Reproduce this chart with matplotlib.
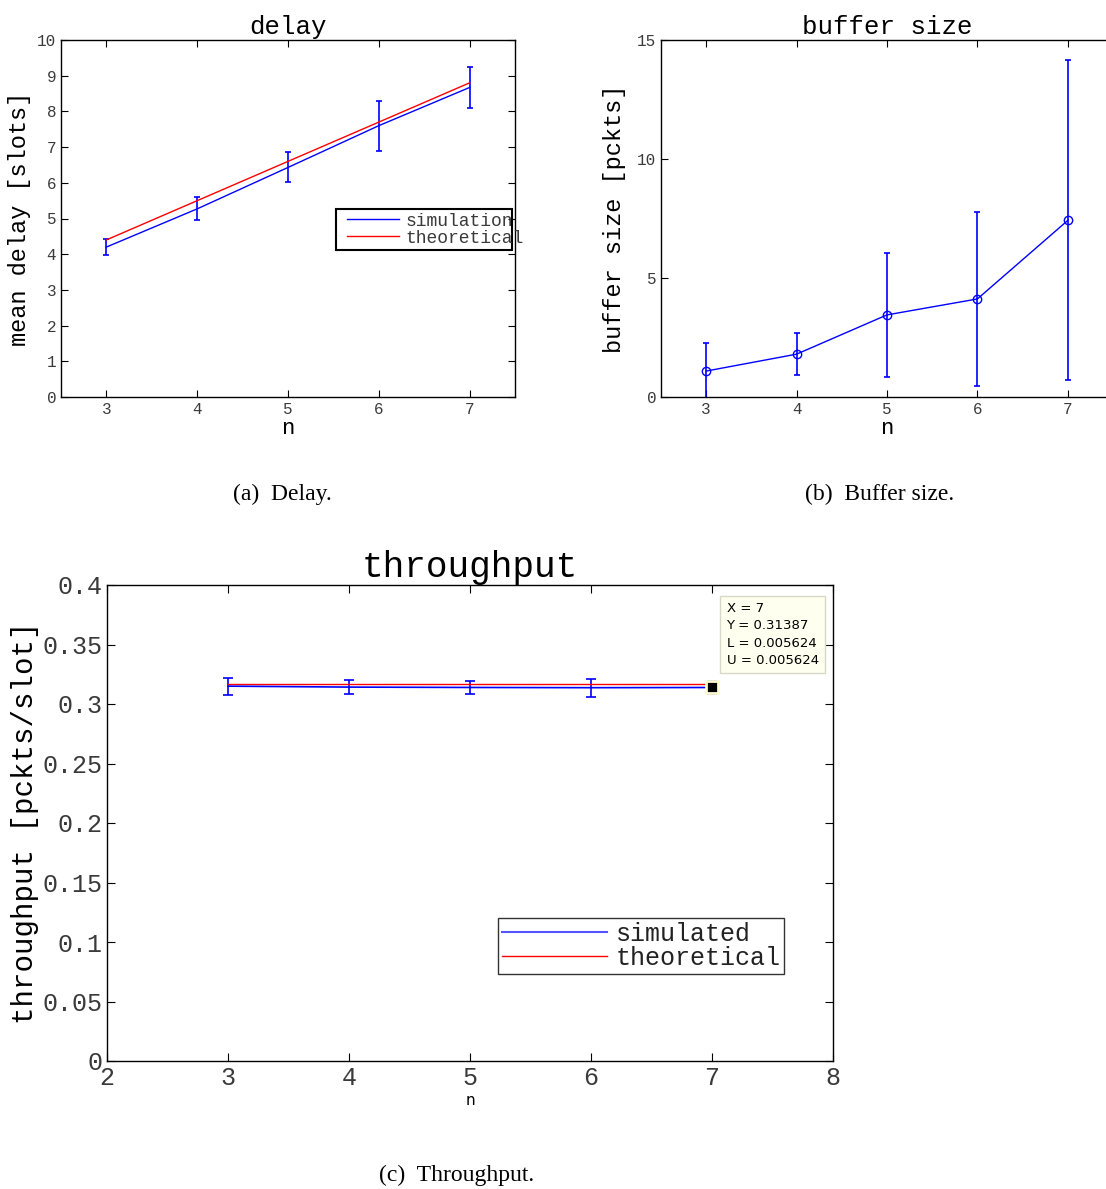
import matplotlib
matplotlib.use("Agg")
import matplotlib.pyplot as plt
from matplotlib.patches import Rectangle

W, H = 1106, 1189
mono = ['Liberation Mono', 'DejaVu Sans Mono']
serif = ['Liberation Serif', 'DejaVu Serif']

n = [3, 4, 5, 6, 7]
delay_sim = [4.2, 5.27, 6.43, 7.6, 8.67]
delay_err = [0.22, 0.32, 0.42, 0.70, 0.58]
delay_theo = [4.4, 5.5, 6.6, 7.7, 8.8]

buf_mean = [1.09, 1.80, 3.45, 4.12, 7.42]
buf_err = [1.17, 0.89, 2.60, 3.66, 6.72]

thr_sim = [0.3150, 0.3142, 0.3139, 0.3137, 0.31387]
thr_err = [0.0071, 0.0059, 0.0055, 0.0076, 0.005624]
thr_theo = [0.3165, 0.3165, 0.3165, 0.3165, 0.3165]

tick_color = '#3a3a3a'

fig = plt.figure(figsize=(W / 100, H / 100), dpi=100)


def ax_px(l, t, r, b):
    return fig.add_axes([l / W, 1 - b / H, (r - l) / W, (b - t) / H])


def style(ax, fs):
    ax.tick_params(direction='in', top=True, right=True, length=5,
                   labelsize=fs, colors='black', labelcolor=tick_color)
    for lab in ax.get_xticklabels() + ax.get_yticklabels():
        lab.set_fontfamily(mono)
    for s in ax.spines.values():
        s.set_linewidth(1.0)


# (a) delay
ax1 = ax_px(61, 40, 515, 397)
ax1.errorbar(n, delay_sim, yerr=delay_err, color='blue', lw=1, capsize=2.2,
             elinewidth=1.2, capthick=1.2)
ax1.plot(n, delay_theo, color='red', lw=1)
ax1.set_xlim(2.5, 7.5)
ax1.set_ylim(0, 10)
ax1.set_xticks(n)
ax1.set_yticks(range(0, 11))
style(ax1, 11.5)
ax1.set_title('delay', fontfamily=mono, fontsize=18.5, pad=4)
ax1.set_xlabel('n', fontfamily=mono, fontsize=16, labelpad=1)
ax1.set_ylabel('mean delay [slots]', fontfamily=mono, fontsize=17, labelpad=4)
leg1 = ax1.legend(handles=[plt.Line2D([], [], color='blue', lw=1),
                           plt.Line2D([], [], color='red', lw=1)],
                  labels=['simulation', 'theoretical'],
                  loc='upper left', bbox_to_anchor=((343 - 61) / 454, (397 - 209) / 357),
                  prop={'family': mono, 'size': 13}, frameon=False,
                  borderpad=0.2, handlelength=2.9,
                  labelspacing=0.0, handletextpad=0.35, borderaxespad=0)
for t in leg1.get_texts():
    t.set_color(tick_color)
ax1.add_patch(Rectangle(((336 - 61) / 454, (397 - 250) / 357), 176 / 454, 41 / 357,
                        transform=ax1.transAxes, fill=False, ec='black', lw=1.5,
                        clip_on=False, zorder=4))

# (b) buffer size
ax2 = ax_px(661, 40, 1113, 397)
ax2.errorbar(n, buf_mean, yerr=buf_err, color='blue', lw=1, capsize=2.2,
             elinewidth=1.2, capthick=1.2, marker='o', mfc='none', ms=6)
ax2.set_xlim(2.5, 7.5)
ax2.set_ylim(0, 15)
ax2.set_xticks(n)
ax2.set_yticks([0, 5, 10, 15])
style(ax2, 11.5)
ax2.set_title('buffer size', fontfamily=mono, fontsize=18.5, pad=4)
ax2.set_xlabel('n', fontfamily=mono, fontsize=16, labelpad=1)
ax2.set_ylabel('buffer size [pckts]', fontfamily=mono, fontsize=17, labelpad=8)

# (c) throughput
ax3 = ax_px(107, 585, 833, 1061)
ax3.errorbar(n, thr_sim, yerr=thr_err, color='blue', lw=1.2, capsize=3.6,
             elinewidth=1.2, capthick=1.2)
ax3.plot(n, thr_theo, color='red', lw=1)
ax3.set_xlim(2, 8)
ax3.set_ylim(0, 0.4)
ax3.set_xticks(range(2, 9))
ax3.set_yticks([0, 0.05, 0.1, 0.15, 0.2, 0.25, 0.3, 0.35, 0.4])
ax3.set_yticklabels(['0', '0.05', '0.1', '0.15', '0.2', '0.25', '0.3', '0.35', '0.4'])
style(ax3, 18)
ax3.tick_params(length=6)
ax3.set_title('throughput', fontfamily=mono, fontsize=26, pad=6)
ax3.set_xlabel('n', fontfamily='DejaVu Sans', fontsize=11, labelpad=2)
ax3.set_ylabel('throughput [pckts/slot]', fontfamily=mono, fontsize=21, labelpad=2)
leg3 = ax3.legend(handles=[plt.Line2D([], [], color='#5555ff', lw=1.5),
                           plt.Line2D([], [], color='red', lw=1)],
                  labels=['simulated', 'theoretical'],
                  loc='upper left', bbox_to_anchor=((498 - 107) / 726, (1061 - 918) / 476),
                  prop={'family': mono, 'size': 18}, frameon=True, fancybox=False,
                  edgecolor='black', borderpad=0.15, handlelength=4.2,
                  labelspacing=0.0, handletextpad=0.35, borderaxespad=0)
leg3.get_frame().set_linewidth(1.0)
for t in leg3.get_texts():
    t.set_color('#222222')

# data tip
ax3.plot([n[-1]], [thr_sim[-1]], marker='s', color='black', ms=8,
         mec='#fffbd0', mew=2, zorder=5)
ax3.text(7.12, 0.3855, 'X = 7\nY = 0.31387\nL = 0.005624\nU = 0.005624',
         fontfamily='DejaVu Sans', fontsize=9.5, va='top', ha='left', linespacing=1.42,
         bbox=dict(boxstyle='square,pad=0.5', fc='#fffff0', ec='#d8d8c8', lw=1),
         zorder=6)

# captions
fig.text(282 / W, 1 - 494 / H, '(a)  Delay.', fontfamily=serif, fontsize=17,
         ha='center', va='center')
fig.text(880 / W, 1 - 494 / H, '(b)  Buffer size.', fontfamily=serif, fontsize=17,
         ha='center', va='center')
fig.text(457 / W, 1 - 1175 / H, '(c)  Throughput.', fontfamily=serif, fontsize=17,
         ha='center', va='center')

fig.savefig('out.png', dpi=100)
